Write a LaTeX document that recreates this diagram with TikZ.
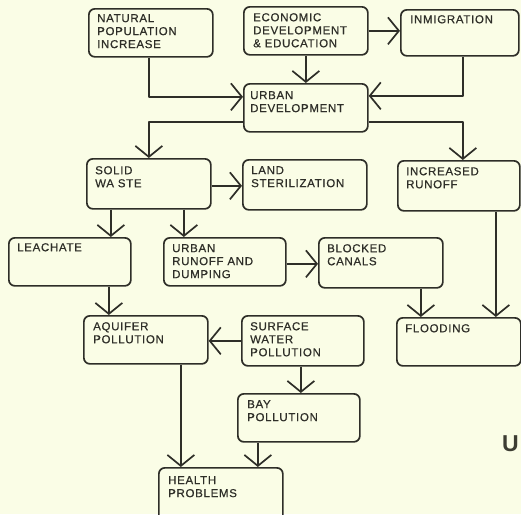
\documentclass[tikz,border=0pt]{standalone}
\usepackage{fontspec}
\setmainfont{Liberation Sans}
\newfontfamily\lettering[LetterSpace=6,FakeBold=0.6]{Liberation Sans}
\usetikzlibrary{arrows.meta}
\definecolor{paper}{HTML}{FAFDE6}
\definecolor{ink}{HTML}{2E2E28}
\definecolor{titleink}{HTML}{3D3D33}

\tikzset{
  box/.style={draw=ink, line width=1.7pt, rounded corners=6pt, anchor=north west, inner sep=0pt},
  lbl/.style={anchor=north west, inner sep=0pt, align=left, text=ink,
              font=\lettering\fontsize{11.5}{13}\selectfont},
  arr/.style={draw=ink, line width=1.7pt, line join=round,
              -{Straight Barb[length=11pt,width=27pt,line width=1.7pt]}},
  heading/.style={anchor=north west, inner sep=0pt, text=titleink,
                  font=\bfseries\fontsize{23}{23}\selectfont},
}

\begin{document}
\begin{tikzpicture}[x=1pt,y=-1pt]
\useasboundingbox (0,0) rectangle (521,514);
\clip (0,0) rectangle (521,514);
\fill[paper] (0,0) rectangle (521,514);

% boxes
\node[box, minimum width=124pt, minimum height=48pt] (nat) at (88,8) {};
\node[box, minimum width=124pt, minimum height=48pt] (eco) at (243,6) {};
\node[box, minimum width=118pt, minimum height=46pt] (inm) at (400,9) {};
\node[box, minimum width=124pt, minimum height=48pt] (urb) at (243,83) {};
\node[box, minimum width=124pt, minimum height=50pt] (sol) at (86,158) {};
\node[box, minimum width=124pt, minimum height=50pt] (lan) at (242,159) {};
\node[box, minimum width=122pt, minimum height=50pt] (inc) at (397,160) {};
\node[box, minimum width=122pt, minimum height=48pt] (lea) at (8,237) {};
\node[box, minimum width=122pt, minimum height=48pt] (run) at (163,237) {};
\node[box, minimum width=124pt, minimum height=50pt] (blo) at (318,237) {};
\node[box, minimum width=124pt, minimum height=48pt] (flo) at (396,317) {};
\node[box, minimum width=124pt, minimum height=48pt] (aqu) at (83,315) {};
\node[box, minimum width=122pt, minimum height=50pt] (sur) at (241,315) {};
\node[box, minimum width=122pt, minimum height=48pt] (bay) at (237,393) {};
\node[box, minimum width=124pt, minimum height=56pt] (hea) at (158,467) {};

% box texts
\node[lbl] (nat-t) at ([shift={(9pt,-6pt)}]nat.north west) {NATURAL\\POPULATION\\INCREASE};
\node[lbl] (eco-t) at ([shift={(10pt,-7pt)}]eco.north west) {ECONOMIC\\DEVELOPMENT\\\& EDUCATION};
\node[lbl] (inm-t) at ([shift={(10pt,-6pt)}]inm.north west) {INMIGRATION};
\node[lbl] (urb-t) at ([shift={(7pt,-8pt)}]urb.north west) {URBAN\\DEVELOPMENT};
\node[lbl] (sol-t) at ([shift={(9pt,-8pt)}]sol.north west) {SOLID\\WA STE};
\node[lbl] (lan-t) at ([shift={(9pt,-7pt)}]lan.north west) {LAND\\STERILIZATION};
\node[lbl] (inc-t) at ([shift={(9pt,-7pt)}]inc.north west) {INCREASED\\RUNOFF};
\node[lbl] (lea-t) at ([shift={(9pt,-6pt)}]lea.north west) {LEACHATE};
\node[lbl] (run-t) at ([shift={(9pt,-7pt)}]run.north west) {URBAN\\RUNOFF AND\\DUMPING};
\node[lbl] (blo-t) at ([shift={(9pt,-7pt)}]blo.north west) {BLOCKED\\CANALS};
\node[lbl] (flo-t) at ([shift={(9pt,-7pt)}]flo.north west) {FLOODING};
\node[lbl] (aqu-t) at ([shift={(10pt,-7pt)}]aqu.north west) {AQUIFER\\POLLUTION};
\node[lbl] (sur-t) at ([shift={(9pt,-7pt)}]sur.north west) {SURFACE\\WATER\\POLLUTION};
\node[lbl] (bay-t) at ([shift={(10pt,-7pt)}]bay.north west) {BAY\\POLLUTION};
\node[lbl] (hea-t) at ([shift={(10pt,-9pt)}]hea.north west) {HEALTH\\PROBLEMS};

% connectors
\draw[arr] ([xshift=-2pt]nat.south) |- ([yshift=11pt]urb.west);
\draw[arr] (eco.south) -- (urb.north);
\draw[arr] (eco.east) -- (eco.east -| inm.west);
\draw[arr] ([xshift=3pt]inm.south) |- ([yshift=12pt]urb.east);
\draw[arr] ([yshift=-14pt]urb.west) -| (sol.north);
\draw[arr] ([yshift=-14pt]urb.east) -| ([xshift=4pt]inc.north);
\draw[arr] ([yshift=-2pt]sol.east) -- ([yshift=-2pt]sol.east -| lan.west);
\draw[arr] ([xshift=-38pt]sol.south) -- ([xshift=-38pt]sol.south |- lea.north);
\draw[arr] ([xshift=35pt]sol.south) -- ([xshift=35pt]sol.south |- run.north);
\draw[arr] ([yshift=-2pt]run.east) -- ([yshift=-2pt]run.east -| blo.west);
\draw[arr] ([xshift=37pt]inc.south) -- ([xshift=37pt]inc.south |- flo.north);
\draw[arr] ([xshift=40pt]blo.south) -- ([xshift=40pt]blo.south |- flo.north);
\draw[arr] ([xshift=39pt]lea.south) -- ([xshift=39pt]lea.south |- aqu.north);
\draw[arr] (sur.west) -- (sur.west -| aqu.east);
\draw[arr] ([xshift=-2pt]sur.south) -- ([xshift=-2pt]sur.south |- bay.north);
\draw[arr] ([xshift=35pt]aqu.south) -- ([xshift=35pt]aqu.south |- hea.north);
\draw[arr] ([xshift=-41pt]bay.south) -- ([xshift=-41pt]bay.south |- hea.north);

% start of the heading at the right edge
\node[heading] (head) at (502,435) {U};
\end{tikzpicture}
\end{document}
